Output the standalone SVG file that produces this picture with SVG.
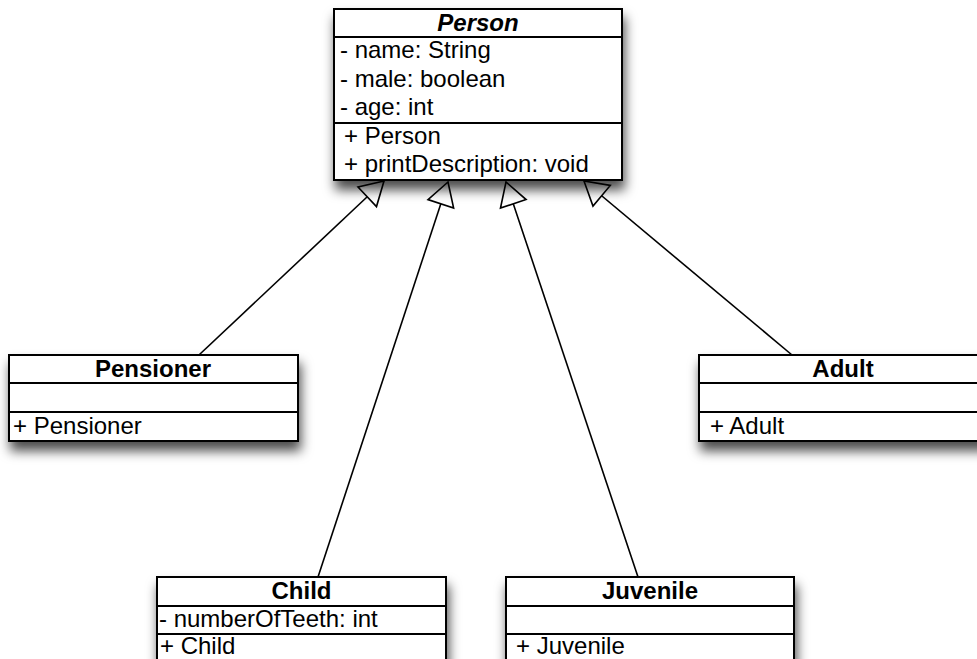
<svg xmlns="http://www.w3.org/2000/svg" width="977" height="659" viewBox="0 0 977 659">
<defs>
<filter id="sh" x="-10%" y="-20%" width="125%" height="170%">
<feDropShadow dx="2" dy="9" stdDeviation="6" flood-color="#000" flood-opacity="0.7"/>
</filter>
<marker id="tri" markerUnits="userSpaceOnUse" markerWidth="28" markerHeight="32" viewBox="-26 -16 28 32" refX="0" refY="0" orient="auto" overflow="visible">
<path d="M0,0 L-23,-13.5 L-23,13.5 Z" fill="#fff" stroke="#000" stroke-width="1.6" stroke-linejoin="miter"/>
</marker>
</defs>
<style>
.box{fill:#fff;stroke:#000;stroke-width:2}
.div{stroke:#000;stroke-width:2;fill:none}
.t{font-family:"Liberation Sans",Arial,sans-serif;font-size:24px;fill:#000}
.h{font-family:"Liberation Sans",Arial,sans-serif;font-size:24px;font-weight:bold;fill:#000;text-anchor:middle}
.edge{stroke:#000;stroke-width:1.6;fill:none;marker-end:url(#tri)}
</style>
<rect width="977" height="659" fill="#fff"/>

<g id="connectors">
<path class="edge" d="M199,355 L384,181"/>
<path class="edge" d="M318,577 L448,182"/>
<path class="edge" d="M638,577 L506,182"/>
<path class="edge" d="M792,355 L584,181"/>
</g>

<g id="Person">
<rect class="box" x="334" y="9" width="288" height="171" filter="url(#sh)"/>
<line class="div" x1="334" y1="37" x2="622" y2="37"/>
<line class="div" x1="334" y1="123" x2="622" y2="123"/>
<text class="h" x="478" y="31" font-style="italic">Person</text>
<text class="t" x="340" y="58">- name: String</text>
<text class="t" x="340" y="87">- male: boolean</text>
<text class="t" x="340" y="115">- age: int</text>
<text class="t" x="344" y="144">+ Person</text>
<text class="t" x="344" y="172">+ printDescription: void</text>
</g>

<g id="Pensioner">
<rect class="box" x="9" y="355" width="289" height="86" filter="url(#sh)"/>
<line class="div" x1="9" y1="383" x2="298" y2="383"/>
<line class="div" x1="9" y1="412" x2="298" y2="412"/>
<text class="h" x="153" y="377">Pensioner</text>
<text class="t" x="13" y="434">+ Pensioner</text>
</g>

<g id="Adult">
<rect class="box" x="699" y="355" width="289" height="86" filter="url(#sh)"/>
<line class="div" x1="699" y1="383" x2="988" y2="383"/>
<line class="div" x1="699" y1="412" x2="988" y2="412"/>
<text class="h" x="843" y="377">Adult</text>
<text class="t" x="710" y="434">+ Adult</text>
</g>

<g id="Child">
<rect class="box" x="157" y="577" width="289" height="100" filter="url(#sh)"/>
<line class="div" x1="157" y1="606" x2="446" y2="606"/>
<line class="div" x1="157" y1="634" x2="446" y2="634"/>
<text class="h" x="301.5" y="599">Child</text>
<text class="t" x="159" y="627">- numberOfTeeth: int</text>
<text class="t" x="160" y="654">+ Child</text>
</g>

<g id="Juvenile">
<rect class="box" x="506" y="577" width="288" height="100" filter="url(#sh)"/>
<line class="div" x1="506" y1="606" x2="794" y2="606"/>
<line class="div" x1="506" y1="634" x2="794" y2="634"/>
<text class="h" x="650" y="599">Juvenile</text>
<text class="t" x="516" y="654">+ Juvenile</text>
</g>
</svg>
